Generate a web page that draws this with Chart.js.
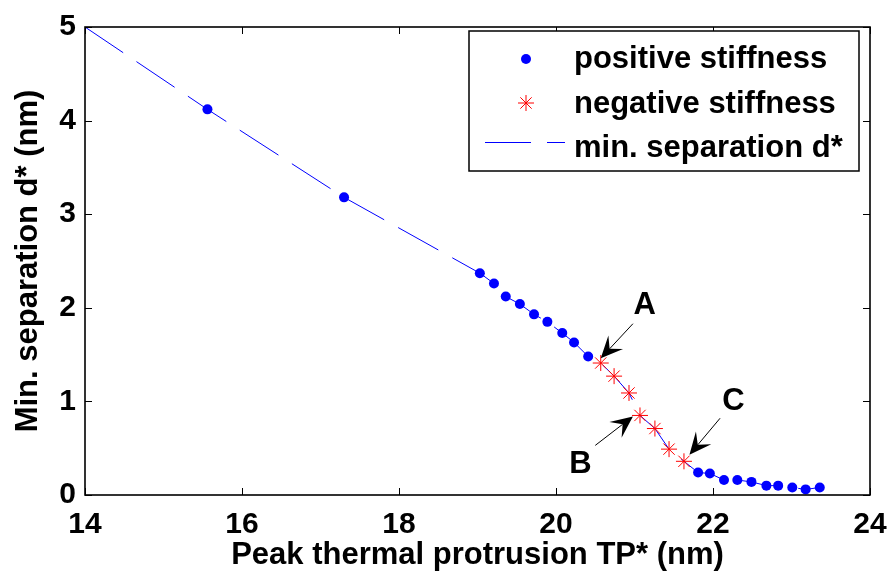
<!DOCTYPE html>
<html>
<head>
<meta charset="utf-8">
<script src="https://cdn.jsdelivr.net/npm/chart.js@4.4.1/dist/chart.umd.min.js"></script>
<style>
  html, body { margin: 0; padding: 0; background: #fff; }
  #wrap { width: 890px; height: 577px; }
</style>
</head>
<body>
<div id="wrap"><canvas id="sepChart" width="890" height="577"></canvas></div>
<script>
// peak thermal protrusion TP* (nm) vs minimum separation d* (nm)
const posTP = [15.56, 17.30, 19.03, 19.21, 19.36, 19.54, 19.72, 19.89, 20.08, 20.23, 20.41,
               21.81, 21.96, 22.14, 22.31, 22.49, 22.68, 22.83, 23.01, 23.18, 23.36];
const posD  = [4.12, 3.18, 2.37, 2.26, 2.12, 2.04, 1.93, 1.85, 1.73, 1.63, 1.48,
               0.24, 0.23, 0.16, 0.16, 0.14, 0.10, 0.10, 0.08, 0.06, 0.08];
const negTP = [20.57, 20.74, 20.93, 21.07, 21.26, 21.44, 21.63];
const negD  = [1.41, 1.27, 1.09, 0.85, 0.71, 0.49, 0.36];
const startTP = [14];
const startD  = [5];

const xTicks = [14, 16, 18, 20, 22, 24];
const yTicks = [0, 1, 2, 3, 4, 5];

const seriesNames = ['positive stiffness', 'negative stiffness', 'min. separation d*'];

// A, B, C callouts (tail -> tip, label spot)
const calloutText = ['A', 'B', 'C'];
const calloutTail = [[20.98, 1.83], [20.50, 0.53], [22.09, 0.82]];
const calloutTip  = [[20.57, 1.46], [20.98, 0.84], [21.70, 0.43]];
const calloutAt   = [[21.13, 2.02], [20.31, 0.33], [22.26, 1.00]];

const toPts = (xs, ys) => xs.map((x, i) => ({ x: x, y: ys[i] }));

const posPts = toPts(posTP, posD);
const negPts = toPts(negTP, negD);
const curvePts = toPts(startTP, startD).concat(posPts, negPts).sort((a, b) => a.x - b.x);

const BLUE = '#0000ff';
const RED = '#ff0000';
const FONT = '"Liberation Sans", Arial, Helvetica, sans-serif';

Chart.defaults.font.family = FONT;
Chart.defaults.color = '#000';

// box around the plot with inward ticks on all four sides
const framePlugin = {
  id: 'frame',
  afterDatasetsDraw(chart) {
    const { ctx, chartArea: a, scales: { x, y } } = chart;
    const len = 7;
    ctx.save();
    ctx.strokeStyle = '#000';
    ctx.lineWidth = 1;
    ctx.beginPath();
    xTicks.forEach(v => {
      const px = Math.round(x.getPixelForValue(v)) + 0.5;
      ctx.moveTo(px, a.bottom); ctx.lineTo(px, a.bottom - len);
      ctx.moveTo(px, a.top); ctx.lineTo(px, a.top + len);
    });
    yTicks.forEach(v => {
      const py = Math.round(y.getPixelForValue(v)) + 0.5;
      ctx.moveTo(a.left, py); ctx.lineTo(a.left + len, py);
      ctx.moveTo(a.right, py); ctx.lineTo(a.right - len, py);
    });
    ctx.stroke();
    ctx.lineWidth = 1.6;
    ctx.strokeRect(a.left, a.top, a.right - a.left, a.bottom - a.top);
    ctx.restore();
  }
};

// arrows with labels A, B, C
const calloutPlugin = {
  id: 'callouts',
  afterDatasetsDraw(chart) {
    const { ctx, scales: { x, y } } = chart;
    ctx.save();
    ctx.strokeStyle = '#000';
    ctx.fillStyle = '#000';
    ctx.lineWidth = 1;
    calloutText.forEach((t, i) => {
      const x0 = x.getPixelForValue(calloutTail[i][0]);
      const y0 = y.getPixelForValue(calloutTail[i][1]);
      const x1 = x.getPixelForValue(calloutTip[i][0]);
      const y1 = y.getPixelForValue(calloutTip[i][1]);
      const d = Math.hypot(x1 - x0, y1 - y0);
      const ux = (x1 - x0) / d, uy = (y1 - y0) / d;
      const nx = -uy, ny = ux;
      const L = 22, W = 10, notch = 13;
      ctx.beginPath();
      ctx.moveTo(x0, y0);
      ctx.lineTo(x1 - ux * notch, y1 - uy * notch);
      ctx.stroke();
      ctx.beginPath();
      ctx.moveTo(x1, y1);
      ctx.lineTo(x1 - ux * L + nx * W, y1 - uy * L + ny * W);
      ctx.lineTo(x1 - ux * notch, y1 - uy * notch);
      ctx.lineTo(x1 - ux * L - nx * W, y1 - uy * L - ny * W);
      ctx.closePath();
      ctx.fill();
      ctx.font = 'bold 31px ' + FONT;
      ctx.textAlign = 'center';
      ctx.textBaseline = 'middle';
      ctx.fillText(t, x.getPixelForValue(calloutAt[i][0]), y.getPixelForValue(calloutAt[i][1]));
    });
    ctx.restore();
  }
};

// legend box in the upper right corner
const legendPlugin = {
  id: 'boxLegend',
  afterDraw(chart) {
    const { ctx } = chart;
    const box = { left: 469, top: 31, width: 390, height: 140 };
    const markX = 526, textX = 574;
    const rows = [68, 113, 157];
    ctx.save();
    ctx.fillStyle = '#fff';
    ctx.fillRect(box.left, box.top, box.width, box.height);
    ctx.strokeStyle = '#000';
    ctx.lineWidth = 1.5;
    ctx.strokeRect(box.left, box.top, box.width, box.height);

    // dot
    ctx.fillStyle = BLUE;
    ctx.beginPath();
    ctx.arc(markX, rows[0] - 9, 5, 0, Math.PI * 2);
    ctx.fill();

    // star
    ctx.strokeStyle = RED;
    ctx.lineWidth = 1;
    const sy = rows[1] - 10, r = 8, k = r * Math.SQRT1_2;
    ctx.beginPath();
    ctx.moveTo(markX - r, sy); ctx.lineTo(markX + r, sy);
    ctx.moveTo(markX, sy - r); ctx.lineTo(markX, sy + r);
    ctx.moveTo(markX - k, sy - k); ctx.lineTo(markX + k, sy + k);
    ctx.moveTo(markX - k, sy + k); ctx.lineTo(markX + k, sy - k);
    ctx.stroke();

    // dashed line sample
    ctx.strokeStyle = BLUE;
    ctx.setLineDash([46, 16]);
    ctx.beginPath();
    ctx.moveTo(485, rows[2] - 14.5);
    ctx.lineTo(565, rows[2] - 14.5);
    ctx.stroke();
    ctx.setLineDash([]);

    ctx.fillStyle = '#000';
    ctx.font = 'bold 31px ' + FONT;
    ctx.textAlign = 'left';
    ctx.textBaseline = 'alphabetic';
    seriesNames.forEach((s, i) => ctx.fillText(s, textX, rows[i]));
    ctx.restore();
  }
};

new Chart(document.getElementById('sepChart'), {
  type: 'scatter',
  data: {
    datasets: [
      {
        label: seriesNames[0],
        data: posPts,
        pointStyle: 'circle',
        pointRadius: 5,
        pointBackgroundColor: BLUE,
        pointBorderWidth: 0,
        showLine: false
      },
      {
        label: seriesNames[1],
        data: negPts,
        pointStyle: 'star',
        pointRadius: 8,
        pointBorderColor: RED,
        pointBorderWidth: 1,
        showLine: false
      },
      {
        label: seriesNames[2],
        data: curvePts,
        showLine: true,
        pointRadius: 0,
        borderColor: BLUE,
        borderWidth: 1,
        borderDash: [46, 16],
        tension: 0
      }
    ]
  },
  options: {
    responsive: false,
    animation: false,
    devicePixelRatio: 1,
    layout: { padding: { top: 15, right: 20, left: 0, bottom: 0 } },
    plugins: {
      legend: { display: false },
      tooltip: { enabled: false }
    },
    scales: {
      x: {
        type: 'linear',
        min: 14,
        max: 24,
        afterBuildTicks: s => { s.ticks = xTicks.map(v => ({ value: v })); },
        afterFit: s => { s.height = 82; s.paddingRight = 0; },
        grid: { display: false, drawTicks: false },
        border: { display: false },
        ticks: { font: { size: 30, weight: 'bold' }, color: '#000', padding: 12, maxRotation: 0 },
        title: {
          display: true,
          text: 'Peak thermal protrusion TP* (nm)',
          font: { size: 31, weight: 'bold' },
          color: '#000',
          padding: { top: 0, bottom: 3 }
        }
      },
      y: {
        type: 'linear',
        min: 0,
        max: 5,
        afterBuildTicks: s => { s.ticks = yTicks.map(v => ({ value: v })); },
        afterFit: s => { s.width = 85; },
        grid: { display: false, drawTicks: false },
        border: { display: false },
        ticks: { font: { size: 30, weight: 'bold' }, color: '#000', padding: 9 },
        title: {
          display: true,
          text: 'Min. separation d* (nm)',
          font: { size: 31, weight: 'bold' },
          color: '#000',
          padding: { top: 10, bottom: 0 }
        }
      }
    }
  },
  plugins: [framePlugin, calloutPlugin, legendPlugin]
});
</script>
</body>
</html>
